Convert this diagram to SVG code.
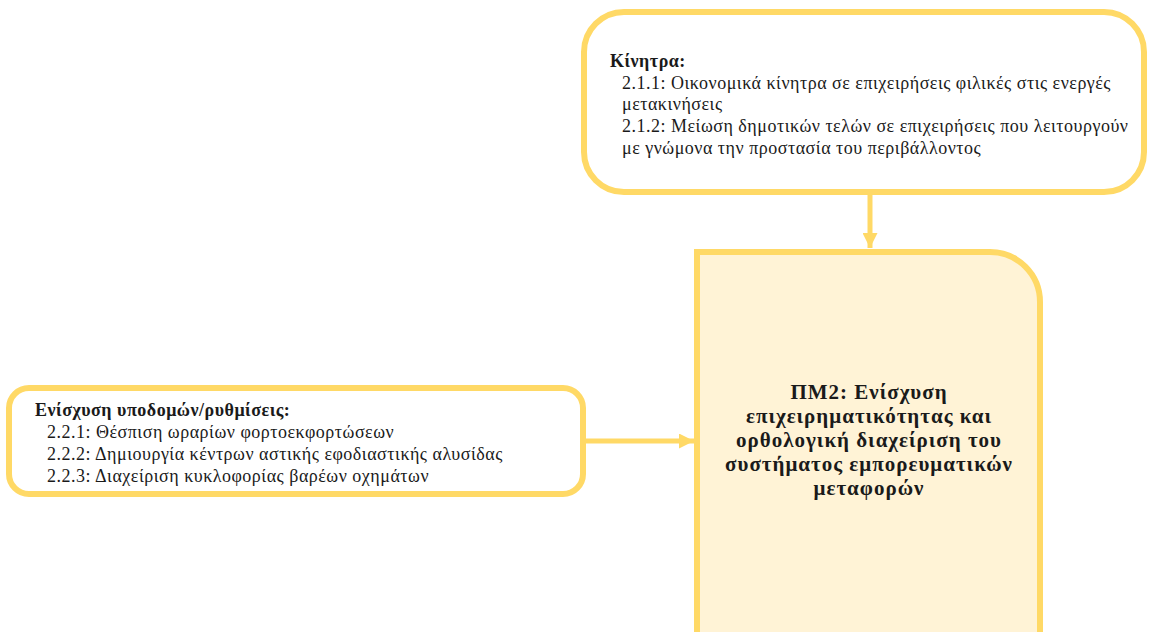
<svg xmlns="http://www.w3.org/2000/svg" width="1152" height="632" viewBox="0 0 1152 632">
<defs>
<style>
.box{fill:#ffffff;stroke:#ffd966;stroke-width:6}
.main{fill:#fff3d6;stroke:#ffd966;stroke-width:6}
.conn{stroke:#ffd966;stroke-width:5;fill:none}
.t{font-family:"Liberation Serif","Times New Roman",serif;font-size:18px;letter-spacing:0.5px;fill:#1a1a1a}
.b{font-weight:bold}
.mt{font-family:"Liberation Serif","Times New Roman",serif;font-size:21px;letter-spacing:1px;font-weight:bold;fill:#1a1a1a;text-anchor:middle}
</style>
<marker id="ah" viewBox="0 0 10 10" refX="10" refY="5" markerWidth="3" markerHeight="3" orient="auto" markerUnits="strokeWidth">
<path d="M0,0 L10,5 L0,10 z" fill="#ffd966"/>
</marker>
</defs>
<g id="connectors">
<line class="conn" x1="870" y1="192" x2="870" y2="248" marker-end="url(#ah)"/>
<line class="conn" x1="584" y1="441" x2="694" y2="441" marker-end="url(#ah)"/>
</g>
<g id="node-kinitra">
<rect class="box" x="584" y="12" width="560" height="180" rx="40" ry="40"/>
<text class="t b" x="610" y="67">Κίνητρα:</text>
<text class="t" x="622" y="89">2.1.1: Οικονομικά κίνητρα σε επιχειρήσεις φιλικές στις ενεργές</text>
<text class="t" x="622" y="110">μετακινήσεις</text>
<text class="t" x="622" y="132">2.1.2: Μείωση δημοτικών τελών σε επιχειρήσεις που λειτουργούν</text>
<text class="t" x="622" y="154">με γνώμονα την προστασία του περιβάλλοντος</text>
</g>
<g id="node-ypodomes">
<rect class="box" x="9" y="388" width="574" height="106" rx="20" ry="20"/>
<text class="t b" x="35" y="416">Ενίσχυση υποδομών/ρυθμίσεις:</text>
<text class="t" x="47" y="438">2.2.1: Θέσπιση ωραρίων φορτοεκφορτώσεων</text>
<text class="t" x="47" y="460">2.2.2: Δημιουργία κέντρων αστικής εφοδιαστικής αλυσίδας</text>
<text class="t" x="47" y="482">2.2.3: Διαχείριση κυκλοφορίας βαρέων οχημάτων</text>
</g>
<g id="node-pm2">
<path class="main" d="M697,640 L697,252 L990,252 A50,50 0 0 1 1040,302 L1040,640"/>
<text class="mt" x="869" y="399">ΠΜ2: Ενίσχυση</text>
<text class="mt" x="869" y="423">επιχειρηματικότητας και</text>
<text class="mt" x="869" y="447">ορθολογική διαχείριση του</text>
<text class="mt" x="869" y="471">συστήματος εμπορευματικών</text>
<text class="mt" x="869" y="495">μεταφορών</text>
</g>
</svg>
